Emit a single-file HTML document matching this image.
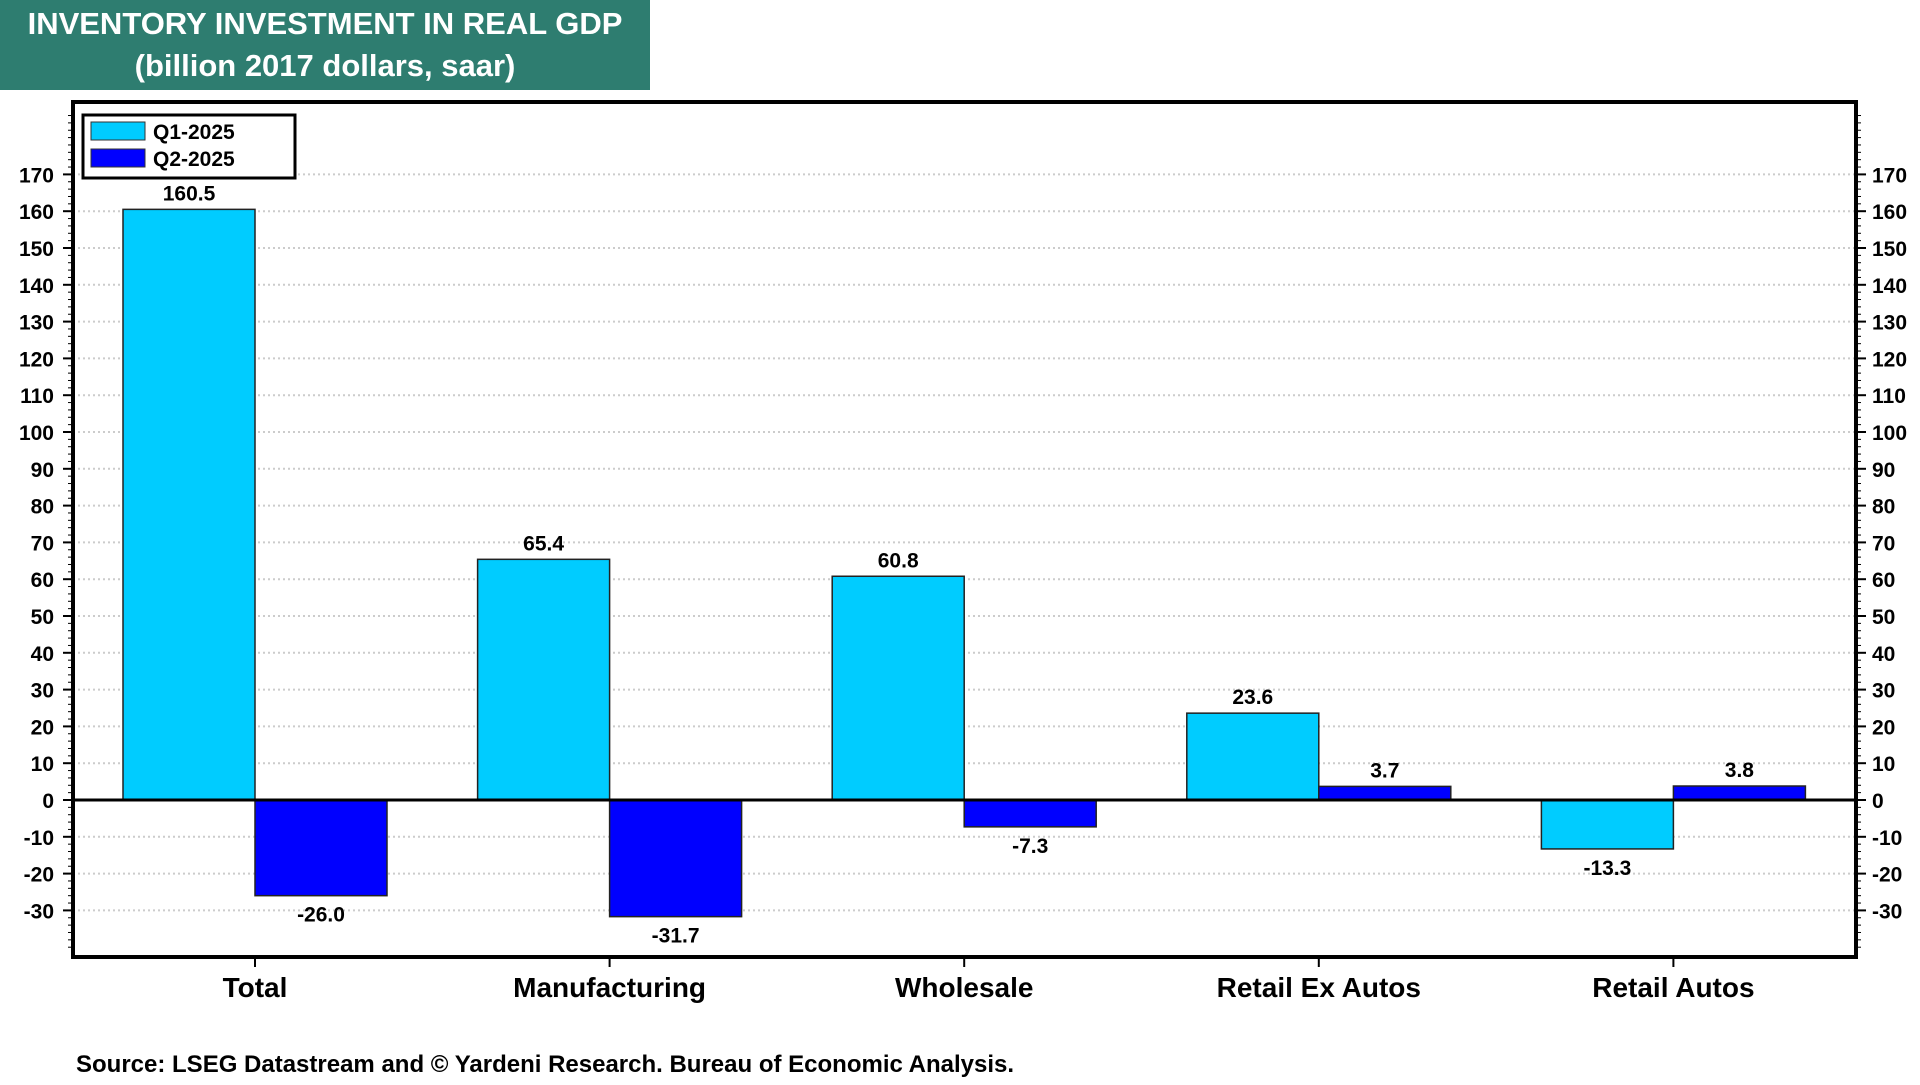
<!DOCTYPE html>
<html><head><meta charset="utf-8"><style>
body{margin:0;width:1920px;height:1080px;background:#fff;overflow:hidden;font-family:"Liberation Sans",Arial,sans-serif}
svg text{font-family:"Liberation Sans",Arial,sans-serif;font-weight:bold}
</style></head><body>
<svg id="chart" width="1920" height="1080">
<rect x="0" y="0" width="650" height="90" fill="#2e7d70"/>
<text x="325" y="34" fill="#fff" font-size="31" text-anchor="middle">INVENTORY INVESTMENT IN REAL GDP</text>
<text x="325" y="76" fill="#fff" font-size="31" text-anchor="middle">(billion 2017 dollars, saar)</text>
<g id="grid"></g>
<g id="bars"></g>
<rect x="73" y="102" width="1783" height="855" fill="none" stroke="#000" stroke-width="4"/>
<g id="axes"></g>
<g>
<rect x="83" y="115" width="212" height="63" fill="#fff" stroke="#000" stroke-width="3"/>
<rect x="91" y="122" width="54" height="18" fill="#00ccff" stroke="#333"/>
<text x="153" y="139" font-size="21">Q1-2025</text>
<rect x="91" y="149" width="54" height="18" fill="#0000ff" stroke="#333"/>
<text x="153" y="166" font-size="21">Q2-2025</text>
</g>
<text x="76" y="1072" font-size="24">Source: LSEG Datastream and © Yardeni Research. Bureau of Economic Analysis.</text>
</svg>
<script>
const categories=["Total","Manufacturing","Wholesale","Retail Ex Autos","Retail Autos"];
const q1Values=[160.5,65.4,60.8,23.6,-13.3];
const q2Values=[-26.0,-31.7,-7.3,3.7,3.8];
const tickValues=[-30,-20,-10,0,10,20,30,40,50,60,70,80,90,100,110,120,130,140,150,160,170];
const NS="http://www.w3.org/2000/svg";
const L=73,R=1856,T=102,B=957;
const y=v=>800-v*3.68;
const cx=i=>255+354.6*i;
const BW=132;
function mk(tag,attrs,parent,txt){const e=document.createElementNS(NS,tag);for(const k in attrs)e.setAttribute(k,attrs[k]);if(txt!==undefined)e.textContent=txt;parent.appendChild(e);return e;}
const grid=document.getElementById('grid'),bars=document.getElementById('bars'),axes=document.getElementById('axes');
tickValues.forEach(v=>{
 if(v!==0){const g=mk('line',{x1:L,x2:R,y1:y(v),y2:y(v),stroke:'#ccc','stroke-width':2,'stroke-dasharray':'2 3'},grid);
 
 }
 const a=mk('text',{x:54,y:y(v)+8,'font-size':21,'text-anchor':'end'},axes,String(v));
 
 
 const b=mk('text',{x:1872,y:y(v)+8,'font-size':21},axes,String(v));
 
 
 mk('line',{x1:L-10,x2:L,y1:y(v),y2:y(v),stroke:'#000','stroke-width':2},axes);
 mk('line',{x1:R,x2:R+10,y1:y(v),y2:y(v),stroke:'#000','stroke-width':2},axes);
});
for(let v=-40;v<=186;v+=2){mk('line',{x1:L-5,x2:L,y1:y(v),y2:y(v),stroke:'#000','stroke-width':1},axes);mk('line',{x1:R,x2:R+5,y1:y(v),y2:y(v),stroke:'#000','stroke-width':1},axes);}
function bar(i,v,x,col,name){
 const r=mk('rect',{x:x,y:Math.min(y(v),y(0)),width:BW,height:Math.abs(y(v)-y(0)),fill:col,stroke:'#222','stroke-width':1.5},bars);
 
 
 const ty=v>=0?y(v)-9:y(v)+26;
 const t=mk('text',{x:x+BW/2,y:ty,'font-size':21,'text-anchor':'middle'},bars,v.toFixed(1));
 
 
}
categories.forEach((c,i)=>{
 bar(i,q1Values[i],cx(i)-BW,'#00ccff','bar-q1');
 bar(i,q2Values[i],cx(i),'#0000ff','bar-q2');
 mk('line',{x1:cx(i),x2:cx(i),y1:B,y2:B+10,stroke:'#000','stroke-width':2},axes);
 const t=mk('text',{x:cx(i),y:997,'font-size':28,'text-anchor':'middle'},axes,c);
 
 
});
mk('line',{x1:L,x2:R,y1:y(0),y2:y(0),stroke:'#000','stroke-width':3},bars);
</script>
</body></html>
